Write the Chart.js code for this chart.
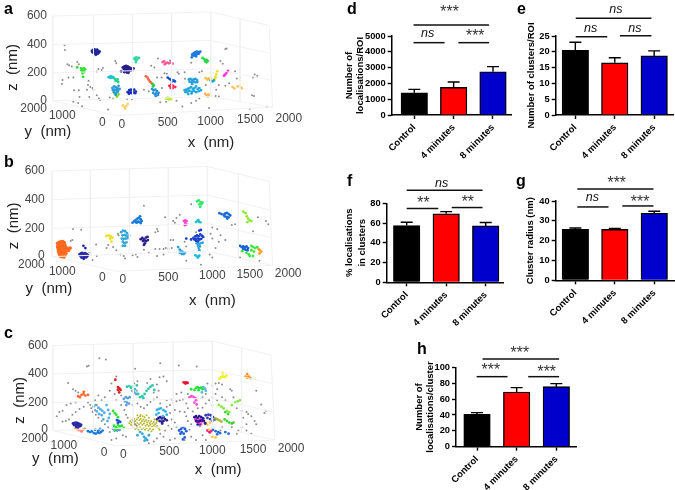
<!DOCTYPE html>
<html>
<head>
<meta charset="utf-8">
<title>Clusters</title>
<script src="https://cdn.jsdelivr.net/npm/chart.js@4"></script>
<style>
  html, body { margin: 0; padding: 0; background: #fff; }
  #page { position: relative; width: 675px; height: 490px; overflow: hidden; filter: blur(0.4px); }
  canvas { position: absolute; }
  .tag { position: absolute; font: bold 16px "Liberation Sans", sans-serif; line-height: 16px; color: #000; }
</style>
</head>
<body>
<div id="page"></div>
<script>
// bar panels, values
const categories = ['Control', '4 minutes', '8 minutes'];
const barColours = ['#000000', '#ff0000', '#0000cd'];

const dValues = [1410, 1750, 2740];
const dUpper = [1620, 2090, 3060];
const dBrackets = [[-0.02, 1.9, 5696], [-0.02, 0.77, 4578], [1.12, 1.9, 4578]];
const dMarks = [['***', 0.88, 6645], ['ns', 0.34, 5127], ['***', 1.53, 5169]];

const eValues = [20.5, 16.5, 18.7];
const eUpper = [23, 18.1, 20.3];
const eBrackets = [[0.01, 1.93, 30.6], [0.01, 0.81, 24.8], [1.13, 1.93, 25.1]];
const eMarks = [['ns', 1.03, 33.4], ['ns', 0.39, 27.4], ['ns', 1.51, 27.4]];

const fValues = [57.4, 69.3, 57.1];
const fUpper = [60.8, 71.6, 60.5];
const fBrackets = [[0, 1.92, 93.2], [0, 0.8, 74.7], [1.14, 1.92, 75.7]];
const fMarks = [['ns', 0.886, 100.3], ['**', 0.405, 82.8], ['**', 1.53, 83.4]];

const gValues = [25.7, 25.7, 33.8];
const gUpper = [26.4, 26.2, 34.8];
const gBrackets = [[0.05, 1.98, 46], [0.05, 0.84, 37], [1.19, 1.98, 37.5]];
const gMarks = [['***', 1.03, 50.1], ['ns', 0.43, 41.7], ['***', 1.62, 40.5]];

const hValues = [40.8, 68.9, 75.6];
const hUpper = [42.9, 74.4, 79.4];
const hBrackets = [[0.14, 2.07, 110.5], [-0.01, 0.77, 88.2], [1.29, 2.07, 88.2]];
const hMarks = [['***', 1.06, 121], ['***', 0.33, 99.6], ['***', 1.74, 97]];

// 3d panels, points as seen on the projected picture (x across, y down)
const zTickLabels = ['600', '400', '200', '0'];
const yTickLabels = ['2000', '1000', '0'];
const xTickLabels = ['0', '500', '1000', '1500', '2000'];

const aZTicks = [[132, 38], [132, 128], [132, 217], [132, 305]];
const aYTicks = [[132, 330], [220, 352], [312, 375]];
const aXTicks = [[362, 380], [503, 375], [635, 372], [757, 366], [875, 362]];
const aWalls = [[150, 38, 635, 25], [635, 25, 815, 68], [150, 128, 635, 115], [635, 115, 815, 155], [150, 217, 635, 204], [635, 204, 820, 240], [150, 305, 635, 292], [635, 292, 825, 325], [150, 305, 345, 352], [345, 352, 825, 325], [150, 38, 150, 305], [275, 35, 275, 302], [395, 32, 395, 298], [515, 28, 515, 295], [635, 25, 635, 292], [725, 46, 725, 308], [815, 68, 825, 325]];
const aGray = [[186,130],[187,145],[195,190],[200,193],[208,197],[225,183],[230,190],[180,240],[178,252],[215,272],[230,272],[198,232],[213,232],[260,242],[258,255],[265,262],[272,265],[275,270],[255,270],[232,293],[262,293],[285,288],[292,298],[295,303],[213,308],[228,312],[240,322],[290,205],[300,208],[285,213],[304,202],[342,180],[345,187],[320,333],[325,295],[335,298],[378,300],[393,300],[430,270],[445,275],[452,195],[462,200],[473,172],[510,178],[533,215],[537,220],[493,218],[470,232],[484,232],[500,220],[485,265],[480,310],[498,308],[530,305],[548,323],[575,312],[590,305],[600,298],[630,328],[650,290],[660,292],[665,180],[672,188],[680,142],[684,140],[710,212],[715,235],[725,232],[770,222],[765,232],[778,226],[762,288],[768,290],[755,330],[808,325],[692,250],[680,258],[660,255],[652,270],[620,255],[608,212],[600,215],[575,185],[556,236],[555,215]];
const aClusters = [
  [[270,148],[274,145],[278,143],[282,146],[286,144],[290,148],[294,150],[272,152],[276,150],[280,150],[284,150],[288,152],[280,155],[284,156],[276,155],[282,160],[288,157],[291,154]],
  [[365,200],[370,197],[375,195],[380,197],[385,200],[390,203],[368,205],[372,203],[376,205],[380,203],[384,206],[388,208],[372,210],[376,212],[380,210],[384,212],[378,216],[370,215],[382,217],[360,212],[398,203],[394,210],[376,200],[382,208]],
  [[225,200],[237,203],[241,205],[246,203],[249,206],[238,210],[244,212],[247,214],[241,218],[243,230]],
  [[398,172],[403,170],[407,168],[411,172],[415,170],[403,175],[407,178],[405,183]],
  [[578,160],[583,155],[588,152],[593,150],[598,152],[603,150],[586,158],[590,160],[595,157],[599,156],[584,163],[590,165],[577,168]],
  [[610,170],[615,174],[619,177],[623,176],[626,180],[618,181],[622,184]],
  [[487,183],[492,181],[497,187],[502,185],[507,187],[512,184],[518,188],[494,190]],
  [[322,231],[326,229],[330,228],[334,231],[328,233]],
  [[337,233],[341,236],[345,240],[349,238],[343,243],[351,246]],
  [[333,265],[338,260],[343,262],[348,265],[352,258],[335,272],[340,270],[345,272],[350,270],[355,268],[338,278],[345,280],[350,276],[343,286]],
  [[340,283],[345,287],[352,285],[347,292]],
  [[380,278],[385,272],[390,270],[395,274],[400,270],[405,276],[388,279],[393,281],[398,279],[403,281],[384,283]],
  [[365,320],[370,325],[375,322],[380,315],[372,330]],
  [[436,228],[441,232],[447,243],[451,247],[444,238]],
  [[452,248],[456,252],[460,256],[458,260]],
  [[503,232],[508,236],[512,238],[517,240],[522,242],[516,245],[525,244]],
  [[508,258],[514,254],[520,258],[512,264],[518,265],[526,262]],
  [[455,268],[460,272],[465,270],[470,275],[475,280],[458,280],[463,284],[468,282],[473,287],[466,290]],
  [[498,298],[503,295],[508,297],[513,300],[506,301]],
  [[568,238],[573,236],[578,240],[583,238],[588,236],[593,240],[570,245],[576,247],[582,245],[588,247],[594,246],[578,252]],
  [[555,272],[560,270],[565,268],[570,265],[575,262],[580,268],[585,265],[590,260],[595,268],[600,265],[605,272],[558,278],[564,276],[570,274],[578,276],[584,274],[590,278],[598,275],[566,284],[576,282]],
  [[620,234],[625,238],[630,235],[636,236]],
  [[634,240],[640,244],[645,241]],
  [[655,212],[652,222],[650,230],[648,235]],
  [[688,211],[684,216],[680,222],[676,226]],
  [[702,262],[708,266],[718,260],[724,258],[728,263],[730,266]],
  [[618,283],[622,288],[628,285],[633,288],[626,292]]
];
const aColours = ['#1f2a9c', '#2a1f8c', '#33dd33', '#2fd9a5', '#1a7ae0', '#2ed84a', '#ff5a96', '#18c0d8', '#1fd68a', '#2a9ad8', '#7ad820', '#1b2fb8', '#ffd070', '#ff6a4a', '#30d040', '#0f55d0', '#ff2a55', '#2a90d8', '#b8e830', '#22a0dc', '#22a8dc', '#ffb84a', '#0aa5c8', '#f0e020', '#ff30d0', '#ffc060', '#ffb860'];

const bZTicks = [[125, 22], [125, 112], [125, 203], [125, 290]];
const bYTicks = [[125, 317], [220, 338], [312, 360]];
const bXTicks = [[365, 365], [505, 358], [640, 352], [755, 350], [873, 345]];
const bWalls = [[147, 22, 625, 8], [625, 8, 815, 55], [147, 112, 625, 98], [625, 98, 818, 145], [147, 203, 625, 188], [625, 188, 820, 232], [147, 292, 625, 275], [625, 275, 825, 320], [147, 292, 345, 338], [345, 338, 825, 320], [147, 22, 147, 292], [265, 19, 265, 288], [385, 15, 385, 284], [505, 12, 505, 280], [625, 8, 625, 275], [720, 30, 720, 297], [815, 55, 825, 320]];
const bGray = [[212,205],[237,207],[430,132],[210,240],[205,243],[283,254],[262,280],[285,290],[272,303],[320,255],[315,265],[335,262],[345,272],[358,285],[368,290],[372,298],[350,220],[352,225],[395,288],[405,285],[410,293],[430,270],[445,280],[465,268],[470,205],[473,212],[465,215],[490,268],[497,265],[505,268],[478,268],[512,240],[520,180],[525,185],[530,170],[540,160],[495,168],[575,127],[515,265],[555,245],[590,215],[560,260],[605,318],[560,305],[640,200],[655,205],[665,225],[640,235],[650,265],[632,285],[640,295],[700,192],[710,190],[780,168],[805,180],[812,190],[765,212],[785,305],[725,295],[680,240],[660,245],[635,220],[470,290],[490,285],[520,240]];
const bClusters = [
  [[165,250],[170,247],[175,246],[180,245],[185,248],[167,256],[172,253],[177,252],[182,254],[187,255],[165,262],[170,260],[175,259],[180,261],[185,262],[190,264],[167,268],[172,267],[177,266],[182,268],[187,269],[195,266],[203,265],[168,275],[173,274],[178,273],[183,275],[188,276],[198,272],[170,282],[175,281],[180,280],[185,282],[190,281],[172,288],[177,287],[182,289],[187,288],[176,294],[184,293]],
  [[232,285],[236,282],[240,280],[245,283],[250,281],[255,285],[258,288],[235,290],[240,288],[245,290],[250,288],[255,291],[238,295],[243,296],[248,295],[253,294],[245,299],[250,265],[244,258]],
  [[360,215],[366,210],[372,212],[378,218],[384,225],[364,225],[370,224],[376,226],[382,230],[362,235],[368,236],[374,235],[380,234],[365,245],[370,250],[376,247],[372,258],[365,258]],
  [[395,185],[400,180],[405,176],[410,172],[415,170],[420,175],[423,180],[404,183],[408,185],[412,182],[416,183],[420,186],[418,165]],
  [[420,237],[425,233],[430,238],[436,232],[441,230],[427,243],[432,241],[437,243],[433,250],[430,255],[442,240]],
  [[315,227],[322,225],[328,228],[333,232],[326,235],[330,245]],
  [[553,180],[557,178],[561,180],[557,186],[560,190],[556,193]],
  [[590,183],[595,179],[600,183],[604,185],[597,177]],
  [[593,118],[598,115],[604,120],[610,122],[600,127],[606,127],[603,135]],
  [[662,155],[668,158],[675,160],[680,156],[685,154],[690,158],[695,162],[678,165],[684,167],[690,168],[686,172]],
  [[735,150],[742,155],[746,165],[750,172],[755,178],[748,183],[760,180]],
  [[560,235],[575,238],[582,233],[588,228],[593,225],[598,228],[603,222],[608,226],[612,230],[585,238],[590,236],[596,235],[601,238],[606,236],[590,242],[596,244],[600,210],[605,208]],
  [[592,250],[598,253],[604,250],[610,248],[596,258],[602,260],[598,265],[600,272]],
  [[588,288],[594,292],[600,289],[596,295]],
  [[535,262],[540,270],[545,275],[550,278],[556,280],[540,280],[546,284],[552,284]],
  [[732,275],[745,280],[752,285],[760,258],[765,262],[772,265],[778,262],[760,272],[768,276],[755,290],[765,290]],
  [[725,258],[730,262],[735,260],[740,263],[745,260],[750,265],[735,268],[742,270],[748,272]],
  [[782,268],[786,272],[790,276],[785,282]]
];
const bColours = ['#ff6a1f', '#2a2aa8', '#2fa5d8', '#1a7ad8', '#2a1f8c', '#f0e020', '#ff40d0', '#18c0d0', '#2ee86a', '#1a6ad8', '#8ae830', '#1a3fc8', '#2fa5dc', '#18b8d8', '#2fa0d8', '#38e838', '#1560d0', '#ffa020'];

const cZTicks = [[135, 52], [135, 142], [135, 232], [135, 318]];
const cYTicks = [[135, 346], [225, 368], [318, 390]];
const cXTicks = [[367, 395], [508, 388], [640, 385], [765, 380], [882, 376]];
const cWalls = [[150, 52, 640, 38], [640, 38, 820, 82], [150, 142, 640, 128], [640, 128, 824, 172], [150, 232, 640, 218], [640, 218, 828, 262], [150, 320, 640, 305], [640, 305, 832, 350], [150, 320, 345, 368], [345, 368, 832, 350], [150, 52, 150, 320], [275, 48, 275, 316], [397, 45, 397, 312], [520, 42, 520, 309], [640, 38, 640, 305], [730, 60, 730, 327], [820, 82, 832, 350]];
const cGray = [[255,118],[260,116],[293,92],[313,96],[480,108],[403,125],[537,115],[592,118],[450,158],[478,152],[490,150],[500,165],[345,150],[330,172],[197,170],[212,190],[220,195],[228,200],[170,262],[180,258],[192,240],[205,235],[220,232],[162,275],[180,292],[190,290],[200,285],[210,270],[220,262],[232,252],[245,245],[258,232],[268,250],[275,258],[282,270],[290,280],[300,290],[310,300],[320,310],[325,325],[330,350],[345,345],[365,335],[375,340],[290,210],[300,225],[310,215],[280,225],[345,225],[360,240],[370,255],[375,270],[380,280],[325,195],[340,205],[360,210],[395,240],[410,235],[420,245],[430,250],[440,240],[450,230],[460,222],[470,215],[480,235],[500,245],[510,240],[520,232],[530,228],[540,225],[550,222],[560,235],[565,250],[555,262],[540,260],[525,255],[510,265],[515,285],[525,295],[530,310],[515,315],[505,305],[495,320],[480,330],[470,345],[460,355],[445,360],[490,340],[510,350],[525,345],[555,350],[575,340],[570,318],[575,300],[565,290],[560,275],[580,260],[595,250],[610,248],[620,235],[630,225],[640,215],[650,205],[655,190],[640,178],[625,172],[650,172],[660,170],[670,175],[695,190],[705,215],[700,195],[715,250],[730,258],[745,262],[750,268],[735,280],[760,275],[770,290],[775,300],[745,300],[730,310],[720,320],[715,330],[745,320],[760,330],[790,238],[800,265],[805,258],[775,195],[700,310],[670,310],[665,320],[610,335],[590,350],[620,350],[400,172],[408,195],[410,165],[395,285],[400,292],[403,300],[408,305],[280,255],[272,262],[265,240],[285,240],[500,225],[515,222],[475,195],[460,200],[440,170],[470,175],[530,205],[545,200],[565,205],[620,205],[610,215],[640,240],[655,225],[670,215],[680,225]];
const cClusters = [
  [[388,290],[392,295],[396,288],[400,283],[404,290],[408,285],[412,280],[416,288],[420,283],[424,290],[428,285],[432,292],[436,287],[440,294],[444,289],[448,296],[452,291],[456,298],[460,293],[464,300],[468,296],[390,302],[395,305],[400,298],[405,303],[410,296],[415,301],[420,296],[425,302],[430,298],[435,305],[440,301],[445,306],[450,302],[455,308],[460,304],[465,310],[470,306],[475,312],[398,310],[403,315],[408,312],[413,318],[418,310],[423,316],[428,312],[433,318],[438,313],[443,320],[448,315],[453,322],[458,317],[420,270],[426,275],[418,275],[432,278],[438,272],[445,280],[410,272],[462,285],[470,290],[478,318],[385,297]],
  [[212,298],[217,296],[222,295],[227,297],[232,299],[237,302],[215,303],[220,302],[225,303],[230,305],[235,306],[222,308],[228,310]],
  [[220,312],[225,316],[230,319],[236,320],[242,318],[248,315],[238,323]],
  [[258,322],[264,325],[270,323],[276,328],[282,330],[288,326],[293,328],[298,325],[303,320],[280,318],[290,320],[295,315]],
  [[275,245],[282,240],[290,248],[296,253],[302,258],[308,264],[285,260],[292,268],[300,272],[305,285],[315,240],[320,255],[325,268],[322,280],[318,290]],
  [[335,258],[340,265],[345,270],[350,278],[338,305],[344,310],[350,303],[356,307],[362,305],[368,312],[342,318],[350,315]],
  [[347,287],[352,290],[357,293],[350,296]],
  [[335,315],[340,320],[348,320],[355,318]],
  [[228,212],[233,215],[238,208],[244,205],[250,210],[258,208],[245,198]],
  [[342,160],[350,183],[354,187],[358,192],[350,192],[354,200]],
  [[378,182],[385,180],[390,185],[396,182],[402,190],[408,178],[412,205],[418,215],[425,212],[432,205],[438,195],[444,188],[450,182],[456,178],[462,192],[428,218]],
  [[368,220],[374,215],[380,218],[386,215],[372,228],[378,232],[384,235],[376,240],[394,195],[400,200],[406,205]],
  [[470,255],[476,252],[482,250],[490,256],[496,260],[500,270],[475,265],[468,270],[488,275]],
  [[470,285],[475,280],[480,278],[485,282],[490,278],[495,284],[500,288],[478,290],[484,292],[490,290],[486,298]],
  [[538,320],[544,315],[550,310],[556,315],[560,322],[546,325],[552,330],[542,330],[555,342],[550,348]],
  [[430,340],[435,345],[440,350],[432,352],[445,335],[425,330],[418,325],[410,335]],
  [[585,278],[590,275],[595,280],[600,275],[606,278],[612,282],[590,290],[596,292],[602,290],[608,288],[614,290],[618,298],[595,302],[602,305]],
  [[588,285],[593,282],[598,288],[603,285],[608,292],[594,295],[600,297],[605,300]],
  [[570,215],[576,212],[582,214],[588,218],[590,225],[585,232],[592,238]],
  [[552,168],[556,170],[560,168],[564,170],[558,172]],
  [[575,190],[585,192],[590,186],[595,183],[600,187],[605,185],[610,190],[598,193]],
  [[612,183],[618,188],[620,195],[608,200]],
  [[662,157],[668,152],[672,148],[678,152],[684,147],[672,138]],
  [[742,150],[747,153],[752,150],[757,155],[747,142]],
  [[660,240],[668,245],[675,250],[685,258],[692,262],[700,240],[710,232],[718,228],[725,225]],
  [[680,262],[688,268],[678,285],[685,290],[692,295],[700,298],[705,295]],
  [[650,282],[656,285],[662,288],[668,292]],
  [[620,272],[628,270],[635,272],[642,278],[648,285],[625,280],[633,284],[640,290]],
  [[612,290],[620,295],[625,302],[633,295],[640,340],[630,318],[650,342]],
  [[625,320],[630,323],[636,322],[632,326]],
  [[642,318],[650,322],[658,325],[664,328],[655,332],[690,330],[680,325]]
];
const cColours = ['#b8b830', '#2a2aa8', '#ff8870', '#1a7ae0', '#55aee8', '#30e030', '#1255d8', '#4a9ae0', '#ff6a30', '#e02020', '#30c8a8', '#5aa0e0', '#38b0e8', '#2e1f90', '#1f60d8', '#38a8e0', '#2a1a90', '#ff40d0', '#ff50d8', '#f01030', '#28e038', '#55b8e8', '#f0f020', '#ff9010', '#80e840', '#40d030', '#a8b830', '#3040b0', '#ffc830', '#ff2090', '#2070d8'];

const fontName = '"Liberation Sans", sans-serif';
const page = document.getElementById('page');

function addCanvas(left, top, width, height) {
    const canvas = document.createElement('canvas');
    canvas.width = width;
    canvas.height = height;
    canvas.style.left = left + 'px';
    canvas.style.top = top + 'px';
    page.appendChild(canvas);
    return canvas.getContext('2d');
}

//error caps, significance lines and their labels, all placed through the chart's scales
const barExtras = {
    id: 'barExtras',
    afterDatasetsDraw(chart, args, opts) {
        const ctx = chart.ctx;
        const xs = chart.scales.x;
        const ys = chart.scales.y;
        ctx.save();
        ctx.strokeStyle = '#000';
        ctx.lineWidth = 1.4;
        opts.upper.forEach((top, i) => {
            const px = xs.getPixelForValue(i);
            const from = ys.getPixelForValue(opts.values[i]);
            const to = ys.getPixelForValue(top);
            ctx.beginPath();
            ctx.moveTo(px, from);
            ctx.lineTo(px, to);
            ctx.moveTo(px - 6, to);
            ctx.lineTo(px + 6, to);
            ctx.stroke();
        });
        ctx.lineWidth = 1.5;
        ctx.strokeStyle = '#111';
        opts.brackets.forEach(b => {
            ctx.beginPath();
            ctx.moveTo(xs.getPixelForValue(b[0]), ys.getPixelForValue(b[2]));
            ctx.lineTo(xs.getPixelForValue(b[1]), ys.getPixelForValue(b[2]));
            ctx.stroke();
        });
        ctx.textAlign = 'center';
        ctx.textBaseline = 'middle';
        opts.marks.forEach(m => {
            const isStar = m[0] !== 'ns';
            ctx.font = isStar ? 'italic 16px ' + fontName : 'italic 12.5px ' + fontName;
            ctx.fillStyle = isStar ? '#333' : '#111';
            ctx.fillText(m[0], xs.getPixelForValue(m[1]), ys.getPixelForValue(m[2]) + (isStar ? 3 : 0));
        });
        ctx.restore();
    }
};

function barPanel(o) {
    const ctx = addCanvas(0, 0, 675, 490);
    new Chart(ctx, {
        type: 'bar',
        plugins: [barExtras],
        data: {
            datasets: [{
                data: o.values.map((v, i) => ({ x: i, y: v })),
                backgroundColor: barColours,
                borderColor: '#000',
                borderWidth: 1.4,
                barThickness: 26.5
            }]
        },
        options: {
            responsive: false,
            animation: false,
            layout: { padding: { left: o.titleLeft, top: o.top, right: 675 - o.right, bottom: 490 - o.bottom - 60 } },
            plugins: {
                legend: { display: false },
                tooltip: { enabled: false },
                barExtras: { values: o.values, upper: o.upper, brackets: o.brackets, marks: o.marks }
            },
            scales: {
                x: {
                    type: 'linear',
                    offset: false,
                    min: o.xMin,
                    max: o.xMax,
                    afterBuildTicks: s => { s.ticks = categories.map((c, i) => ({ value: i })); },
                    afterFit: s => { s.height = 60; },
                    grid: { offset: false, drawOnChartArea: false, tickColor: '#000', tickWidth: 1.4, tickLength: 4 },
                    border: { color: '#000', width: 1.5 },
                    ticks: {
                        autoSkip: false,
                        minRotation: 45,
                        maxRotation: 45,
                        padding: 3,
                        color: '#000',
                        font: { family: fontName, size: 9.5, weight: 'bold' },
                        callback: v => categories[v]
                    }
                },
                y: {
                    min: 0,
                    max: o.yMax,
                    afterFit: s => { s.width = o.axis - o.titleLeft; },
                    grid: { drawOnChartArea: false, tickColor: '#000', tickWidth: 1.4, tickLength: 4 },
                    border: { color: '#000', width: 1.5 },
                    title: {
                        display: true,
                        text: o.title,
                        color: '#000',
                        padding: 0,
                        font: { family: fontName, size: 9.5, weight: 'bold', lineHeight: o.titleLine }
                    },
                    ticks: {
                        stepSize: o.yStep,
                        padding: 2,
                        color: '#000',
                        font: { family: fontName, size: 9.3, weight: 'bold' },
                        callback: v => String(v)
                    }
                }
            }
        }
    });
}

//tick labels and axis names of a 3d view
const boxText = {
    id: 'boxText',
    afterDraw(chart, args, opts) {
        const ctx = chart.ctx;
        const xs = chart.scales.x;
        const ys = chart.scales.y;
        ctx.save();
        ctx.fillStyle = '#444';
        ctx.font = '12px ' + fontName;
        ctx.textBaseline = 'middle';
        ctx.textAlign = 'right';
        opts.zTicks.forEach((t, i) => ctx.fillText(zTickLabels[i], xs.getPixelForValue(t[0]), ys.getPixelForValue(t[1])));
        opts.yTicks.forEach((t, i) => ctx.fillText(yTickLabels[i], xs.getPixelForValue(t[0]), ys.getPixelForValue(t[1])));
        ctx.textAlign = 'center';
        opts.xTicks.forEach((t, i) => ctx.fillText(xTickLabels[i], xs.getPixelForValue(t[0]), ys.getPixelForValue(t[1])));
        ctx.fillStyle = '#222';
        ctx.font = '15px ' + fontName;
        ctx.fillText('y  (nm)', xs.getPixelForValue(opts.yName[0]), ys.getPixelForValue(opts.yName[1]));
        ctx.fillText('x  (nm)', xs.getPixelForValue(opts.xName[0]), ys.getPixelForValue(opts.xName[1]));
        ctx.translate(xs.getPixelForValue(opts.zName[0]), ys.getPixelForValue(opts.zName[1]));
        ctx.rotate(-Math.PI / 2);
        ctx.fillText('z  (nm)', 0, 0);
        ctx.restore();
    }
};

function toPoints(list) {
    return list.map(p => ({ x: p[0], y: p[1] }));
}

function boxPanel(top, o) {
    const ctx = addCanvas(0, top, 340, 165);
    const walls = [];
    o.walls.forEach(w => {
        walls.push({ x: w[0], y: w[1] }, { x: w[2], y: w[3] }, { x: w[2], y: null });
    });
    const sets = [{
        data: walls,
        showLine: true,
        borderColor: '#f1f1f1',
        borderWidth: 1,
        pointRadius: 0
    }, {
        data: toPoints(o.gray),
        backgroundColor: '#8c8c8c',
        pointRadius: 1,
        pointBorderWidth: 0
    }];
    o.clusters.forEach((c, i) => {
        sets.push({
            data: toPoints(c),
            backgroundColor: o.colours[i],
            pointRadius: c.length > 30 ? o.largeDot : 1.4,
            pointBorderWidth: 0
        });
    });
    new Chart(ctx, {
        type: 'scatter',
        plugins: [boxText],
        data: { datasets: sets },
        options: {
            responsive: false,
            animation: false,
            layout: { padding: 0 },
            plugins: {
                legend: { display: false },
                tooltip: { enabled: false },
                boxText: { zTicks: o.zTicks, yTicks: o.yTicks, xTicks: o.xTicks, zName: o.zName, yName: o.yName, xName: o.xName }
            },
            scales: {
                x: { display: false, min: 0, max: 1020 },
                y: { display: false, min: 0, max: 495, reverse: true }
            }
        }
    });
}

boxPanel(0, { walls: aWalls, gray: aGray, clusters: aClusters, colours: aColours, largeDot: 1.4, zTicks: aZTicks, yTicks: aYTicks, xTicks: aXTicks, zName: [27, 200], yName: [135, 403], xName: [636, 437] });
boxPanel(160, { walls: bWalls, gray: bGray, clusters: bClusters, colours: bColours, largeDot: 1.9, zTicks: bZTicks, yTicks: bYTicks, xTicks: bXTicks, zName: [30, 195], yName: [138, 395], xName: [640, 430] });
boxPanel(325, { walls: cWalls, gray: cGray, clusters: cClusters, colours: cColours, largeDot: 1, zTicks: cZTicks, yTicks: cYTicks, xTicks: cXTicks, zName: [50, 225], yName: [158, 410], xName: [658, 443] });

barPanel({ values: dValues, upper: dUpper, brackets: dBrackets, marks: dMarks, title: ['Number of', 'localisations/ROI'], titleLine: 1.2, titleLeft: 343.3, axis: 391.7, top: 36, bottom: 115, right: 512, xMin: -0.574, xMax: 2.483, yMax: 5000, yStep: 1000 });
barPanel({ values: eValues, upper: eUpper, brackets: eBrackets, marks: eMarks, title: 'Number of clusters/ROI', titleLine: 1.2, titleLeft: 526, axis: 555.7, top: 36, bottom: 115, right: 673.5, xMin: -0.498, xMax: 2.49, yMax: 25, yStep: 5 });
barPanel({ values: fValues, upper: fUpper, brackets: fBrackets, marks: fMarks, title: ['% localisations', 'in clusters'], titleLine: 1.37, titleLeft: 342.5, axis: 386.7, top: 203.3, bottom: 282.3, right: 503.3, xMin: -0.506, xMax: 2.446, yMax: 80, yStep: 20 });
barPanel({ values: gValues, upper: gUpper, brackets: gBrackets, marks: gMarks, title: 'Cluster radius (nm)', titleLine: 1.2, titleLeft: 525, axis: 555.7, top: 201, bottom: 280.3, right: 674, xMin: -0.498, xMax: 2.5, yMax: 40, yStep: 10 });
barPanel({ values: hValues, upper: hUpper, brackets: hBrackets, marks: hMarks, title: ['Number of', 'localisations/cluster'], titleLine: 1.2, titleLeft: 413.3, axis: 456, top: 367.3, bottom: 446.7, right: 576.7, xMin: -0.53, xMax: 2.514, yMax: 100, yStep: 20 });

//panel letters
const tags = [['a', 4, 1], ['b', 4, 154], ['c', 4, 325], ['d', 347, 1], ['e', 517, 1], ['f', 347, 173], ['g', 516, 173], ['h', 417, 341]];
tags.forEach(t => {
    const el = document.createElement('div');
    el.className = 'tag';
    el.textContent = t[0];
    el.style.left = t[1] + 'px';
    el.style.top = t[2] + 'px';
    page.appendChild(el);
});
</script>
</body>
</html>
